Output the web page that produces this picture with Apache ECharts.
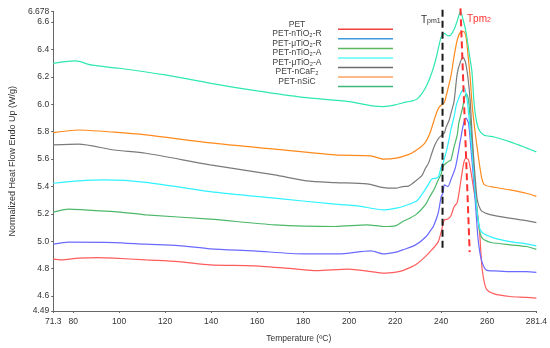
<!DOCTYPE html>
<html><head><meta charset="utf-8">
<script src="https://cdn.jsdelivr.net/npm/echarts@6/dist/echarts.min.js"></script>
<style>html,body{margin:0;padding:0;background:#fff}#c{width:550px;height:348px}</style>
</head><body><div id="c"></div>
<script>
const seriesNames = ['PET','PET-nTiO₂-R','PET-μTiO₂-R','PET-nTiO₂-A','PET-μTiO₂-A','PET-nCaF₂','PET-nSiC'];
const xTicks = [71.3,80,100,120,140,160,180,200,220,240,260,281.4];
const yTicks = [4.49,4.6,4.8,5.0,5.2,5.4,5.6,5.8,6.0,6.2,6.4,6.6,6.678];

const petT = [71.3,74.8,82.3,90.7,97.8,111.6,125.8,139.6,158.5,177.3,185.7,199.5,209.5,214.9,220.4,223.3,228.9,233.1,235.9,238.7,240.0,241.4,242.9,244.2,245.6,247.0,248.4,249.8,250.8,251.9,253.3,254.7,255.4,256.8,257.8,259.6,263.1,270.0,277.0,281.4];
const petV = [4.869,4.863,4.876,4.880,4.876,4.863,4.851,4.827,4.820,4.796,4.785,4.796,4.778,4.766,4.774,4.785,4.827,4.887,4.936,4.995,5.067,5.155,5.162,5.184,5.250,5.283,5.423,5.569,5.606,5.594,5.472,5.323,5.265,5.046,4.800,4.652,4.615,4.596,4.590,4.584];

const nTiRT = [71.3,78.1,97.8,111.6,125.8,139.6,158.5,180.2,195.3,209.5,214.9,220.4,223.3,228.9,233.5,235.9,236.6,238.7,240.0,240.8,241.4,242.9,244.2,246.3,248.4,249.8,250.8,251.9,253.0,254.0,255.1,256.1,257.5,259.6,263.1,270.0,277.0,281.4];
const nTiRV = [4.978,4.993,4.990,4.978,4.968,4.944,4.929,4.907,4.907,4.929,4.907,4.920,4.936,4.973,5.034,5.090,5.107,5.204,5.323,5.352,5.411,5.399,5.447,5.545,5.739,5.861,5.898,5.861,5.666,5.472,5.228,5.009,4.863,4.790,4.783,4.778,4.778,4.772];

const uTiRT = [71.3,78.1,85.2,97.8,111.6,139.6,167.6,194.0,207.8,214.9,220.4,223.3,228.9,233.1,235.1,237.2,238.5,240.0,240.8,242.1,243.5,244.2,245.6,247.0,247.7,249.1,250.3,251.0,251.9,253.0,254.2,255.3,256.5,257.5,258.9,261.7,270.0,277.0,281.4];
const uTiRV = [5.212,5.234,5.228,5.216,5.192,5.161,5.119,5.107,5.119,5.107,5.114,5.143,5.192,5.265,5.326,5.387,5.440,5.490,5.545,5.569,5.586,5.590,5.688,5.776,5.864,5.958,6.053,6.075,6.031,5.812,5.520,5.265,5.097,5.031,5.009,4.990,4.973,4.961,4.940];

const nTiAT = [71.3,82.3,93.6,111.6,139.6,167.6,194.0,203.6,214.9,220.4,223.3,228.9,231.0,233.8,235.9,237.9,238.8,240.0,240.8,242.1,243.2,244.2,245.6,246.7,247.7,248.8,250.1,251.3,252.6,253.9,255.1,256.2,256.8,258.2,263.1,270.0,277.0,281.4];
const nTiAV = [5.423,5.440,5.447,5.430,5.362,5.314,5.270,5.258,5.228,5.241,5.253,5.289,5.326,5.396,5.453,5.460,5.470,5.540,5.570,5.645,5.725,5.812,5.907,6.002,6.046,6.090,6.119,6.031,5.812,5.557,5.301,5.141,5.090,5.058,5.022,4.997,4.980,4.966];

const uTiAT = [71.3,82.3,97.8,111.6,139.6,167.6,181.4,194.0,207.8,214.9,220.4,223.3,225.4,228.9,231.7,233.1,234.5,235.9,237.2,238.8,240.0,241.4,242.1,243.5,244.2,245.6,247.0,248.4,249.5,250.5,251.6,252.6,253.6,254.7,255.7,257.2,258.9,261.7,270.0,277.0,281.4];
const uTiAV = [5.703,5.708,5.666,5.642,5.557,5.484,5.440,5.428,5.418,5.391,5.387,5.399,5.400,5.440,5.480,5.530,5.570,5.640,5.700,5.750,5.770,5.790,5.830,5.885,5.930,6.020,6.226,6.311,6.343,6.311,6.201,6.031,5.739,5.484,5.301,5.228,5.207,5.192,5.168,5.150,5.136];

const caF2T = [71.3,82.3,97.8,111.6,139.6,167.6,194.0,209.4,214.9,220.4,225.4,228.7,232.8,235.1,237.9,239.3,241.4,242.1,244.2,245.6,247.0,248.4,249.8,250.8,251.6,252.6,253.3,254.0,255.4,257.5,258.9,263.1,270.0,277.0,281.4];
const caF2V = [5.793,5.812,5.796,5.776,5.718,5.672,5.630,5.623,5.599,5.606,5.630,5.659,5.715,5.788,5.934,5.982,6.013,6.055,6.201,6.347,6.469,6.526,6.530,6.493,6.372,6.201,6.031,5.909,5.715,5.472,5.411,5.394,5.374,5.350,5.327];

const sicT = [71.3,81.0,88.2,100,120,140,160,180,200,210,215,220,225,227.5,229.6,231.7,233.8,235.9,237.6,238.8,240.0,241.4,243.0,244.2,245.9,247.2,248.4,249.6,250.9,252.2,253.4,254.2,255.1,256.3,258.5,263.1,270.0,277.0,281.4];
const sicV = [6.299,6.316,6.285,6.263,6.214,6.152,6.097,6.050,6.019,5.988,5.983,5.995,6.017,6.024,6.039,6.080,6.140,6.228,6.323,6.410,6.490,6.517,6.499,6.506,6.557,6.620,6.678,6.615,6.520,6.370,6.236,6.031,5.900,5.820,5.776,5.761,5.725,5.681,5.652];

const tpm1T = [240.6,240.6];
const tpm1V = [6.69,4.95];
const tpm2T = [248.4,252.4];
const tpm2V = [6.70,4.92];

const curveColors = ['#ff5c5c','#6a6aff','#4cb86a','#2ef2ff','#7a7a7a','#ff8a1c','#2ee8b0'];
const legendColors = ['#f04040','#3d9be0','#5cb85c','#5ef7f7','#6e6e6e','#ffa060','#3cb878'];
const allT = [petT,nTiRT,uTiRT,nTiAT,uTiAT,caF2T,sicT];
const allV = [petV,nTiRV,uTiRV,nTiAV,uTiAV,caF2V,sicV];

const pair = (T,V) => T.map((t,i)=>[t,V[i]]);
const FONT = "'Liberation Sans', Arial, sans-serif";

const series = seriesNames.map((n,i)=>({
  name:n, type:'line', data:pair(allT[i],allV[i]), showSymbol:false, symbol:'none',
  smooth:0.25, lineStyle:{color:curveColors[i], width:1.2}, itemStyle:{color:curveColors[i]},
  animation:false, z:2
}));
series.push({type:'line', data:pair(tpm1T,tpm1V), showSymbol:false, symbol:'none', clip:false,
  lineStyle:{color:'#1a1a1a', width:2, type:[7,4]}, animation:false, z:5, silent:true});
series.push({type:'line', data:pair(tpm2T,tpm2V), showSymbol:false, symbol:'none', clip:false,
  lineStyle:{color:'#ff3030', width:2, type:[7,4]}, animation:false, z:5, silent:true});

const chart = echarts.init(document.getElementById('c'), null, {renderer:'canvas'});
chart.setOption({
  animation:false,
  backgroundColor:'#fff',
  grid:{left:36.7, right:11.5, top:11.4, bottom:37, containLabel:false},
  xAxis:{type:'value', min:71.3, max:281.4,
    name:'Temperature (ºC)', nameLocation:'middle', nameGap:23,
    nameTextStyle:{fontFamily:FONT, fontSize:8.5, color:'#333', padding:[0,0,0,8]},
    axisLine:{lineStyle:{color:'#666', width:1}},
    axisTick:{show:true, length:2, customValues:xTicks, lineStyle:{color:'#666'}},
    axisLabel:{customValues:xTicks, fontFamily:FONT, fontSize:8.5, color:'#333', margin:6,
      formatter:v=>String(v)},
    splitLine:{show:false}},
  yAxis:{type:'value', min:4.49, max:6.678,
    name:'Normalized Heat Flow Endo Up (W/g)', nameLocation:'middle', nameGap:25, nameRotate:90,
    nameTextStyle:{fontFamily:FONT, fontSize:9, color:'#333'},
    axisLine:{show:true, lineStyle:{color:'#666', width:1}},
    axisTick:{show:true, length:2, customValues:yTicks, lineStyle:{color:'#666'}},
    axisLabel:{customValues:yTicks, fontFamily:FONT, fontSize:8.5, color:'#333', margin:4,
      formatter:v=>(v===4.49||v===6.678)?String(v):v.toFixed(1)},
    splitLine:{show:false}},
  legend:{orient:'vertical', left:261, top:19.8, padding:0, align:'right',
    icon:'rect', itemWidth:55, itemHeight:1.5, itemGap:-9.45,
    data:seriesNames.map((n,i)=>({name:n, itemStyle:{color:legendColors[i]}})),
    formatter:n=>'{a|'+n+'}',
    textStyle:{fontFamily:FONT, fontSize:8.5, color:'#404040',
      rich:{a:{width:72, align:'center', fontFamily:FONT, fontSize:8.5, color:'#404040', lineHeight:9, padding:[0,0,10,0]}}}
  },
  graphic:[
    {type:'text', left:421, top:13, z:10, style:{text:'{t|T}{s|pm1}', rich:{
      t:{fontFamily:FONT, fontSize:10, lineHeight:10, verticalAlign:'top', fill:'#333', color:'#333'},
      s:{fontFamily:FONT, fontSize:7, lineHeight:8, padding:[5,0,0,0], verticalAlign:'bottom', fill:'#333', color:'#333'}}}},
    {type:'text', left:467, top:12, z:10, style:{text:'{t|Tpm}{s|2}', rich:{
      t:{fontFamily:FONT, fontSize:10, lineHeight:10, verticalAlign:'top', fill:'#ff3030', color:'#ff3030'},
      s:{fontFamily:FONT, fontSize:7, lineHeight:8, padding:[5,0,0,0], verticalAlign:'bottom', fill:'#ff3030', color:'#ff3030'}}}}
  ],
  series:series
});
</script></body></html>
